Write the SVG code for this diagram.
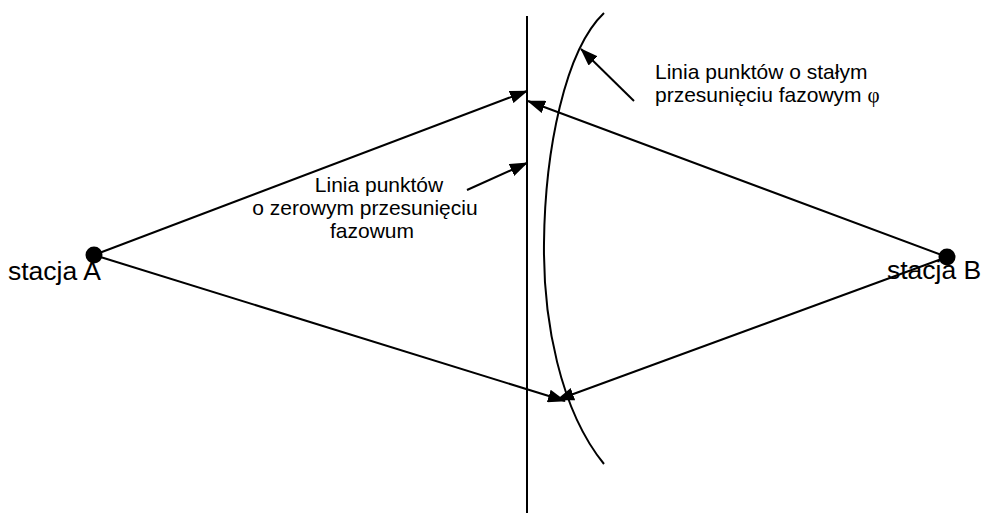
<svg xmlns="http://www.w3.org/2000/svg" width="982" height="516" viewBox="0 0 982 516">
<style>
  .ln { stroke:#000; stroke-width:2; fill:none; }
  .t { font-family:"Liberation Sans", Arial, sans-serif; font-size:21px; fill:#000; }
  .st { font-family:"Liberation Sans", Arial, sans-serif; font-size:26.5px; fill:#000; }
  .phi { font-family:"Liberation Serif", "Times New Roman", serif; }
</style>
<defs>
  <marker id="ah" viewBox="0 0 18 13" refX="17" refY="6.5" markerWidth="18" markerHeight="13" markerUnits="userSpaceOnUse" orient="auto">
    <path d="M0,0 L18,6.5 L0,13 z" fill="#000"/>
  </marker>
</defs>
<rect width="982" height="516" fill="#fff"/>
<g id="zeroLine">
  <line class="ln" x1="527" y1="16" x2="527" y2="513"/>
  <text class="t" text-anchor="middle"><tspan x="379" y="192">Linia punktów</tspan><tspan x="365" y="215">o zerowym przesunięciu</tspan><tspan x="372" y="238">fazowum</tspan></text>
</g>
<g id="phaseCurve">
  <path class="ln" d="M604,13 C565,50 545,150 544,243 C543,320 560,410 604,464"/>
  <text class="t"><tspan x="655" y="79">Linia punktów o stałym</tspan><tspan x="655" y="102">przesunięciu fazowym <tspan class="phi">φ</tspan></tspan></text>
</g>
<g id="stationA">
  <circle cx="94" cy="255" r="8.5" fill="#000"/>
  <text class="st" x="8" y="280">stacja A</text>
</g>
<g id="stationB">
  <circle cx="947" cy="257" r="8.5" fill="#000"/>
  <text class="st" x="887" y="279">stacja B</text>
</g>
<g id="connectors">
  <line class="ln" x1="94" y1="255" x2="527" y2="91" marker-end="url(#ah)"/>
  <line class="ln" x1="947" y1="257" x2="528" y2="101" marker-end="url(#ah)"/>
  <line class="ln" x1="94" y1="255" x2="565" y2="401" marker-end="url(#ah)"/>
  <line class="ln" x1="947" y1="257" x2="557" y2="400" marker-end="url(#ah)"/>
  <line class="ln" x1="467" y1="190" x2="527" y2="163" marker-end="url(#ah)"/>
  <line class="ln" x1="634" y1="101" x2="581" y2="49" marker-end="url(#ah)"/>
</g>
</svg>
